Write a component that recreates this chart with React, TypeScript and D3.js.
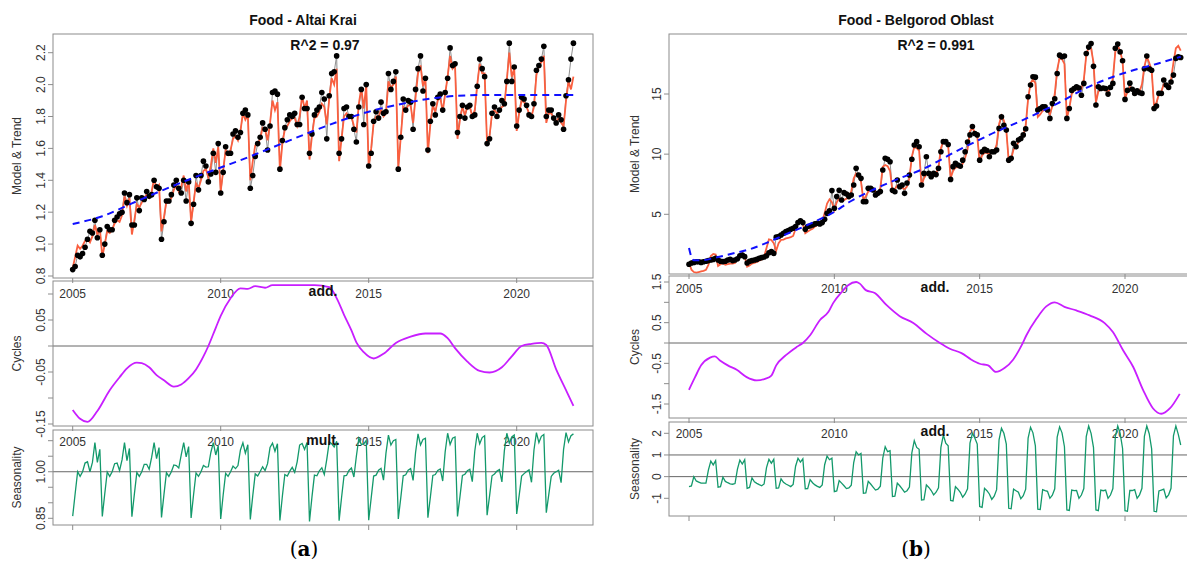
import * as d3 from "d3";

const yearTicks = [2005, 2010, 2015, 2020];

// ---------- (a) Food - Altai Krai, monthly Jan 2005 .. Dec 2021 ----------
const altaiObserved = [
  0.84, 0.86, 0.93, 0.92, 0.94, 0.98, 1.03, 1.08, 1.07, 1.15, 1.04, 1.09,
  0.93, 1.00, 1.11, 1.09, 1.09, 1.15, 1.17, 1.19, 1.20, 1.32, 1.26, 1.31,
  1.12, 1.12, 1.29, 1.21, 1.29, 1.28, 1.33, 1.30, 1.31, 1.40, 1.36, 1.35,
  1.03, 1.14, 1.27, 1.27, 1.31, 1.37, 1.40, 1.35, 1.32, 1.40, 1.27, 1.39,
  1.13, 1.25, 1.43, 1.34, 1.43, 1.52, 1.49, 1.39, 1.44, 1.57, 1.45, 1.63,
  1.32, 1.45, 1.61, 1.57, 1.57, 1.69, 1.71, 1.67, 1.70, 1.82, 1.84, 1.81,
  1.35, 1.43, 1.55, 1.63, 1.67, 1.76, 1.72, 1.59, 1.74, 1.95, 1.96, 1.94,
  1.47, 1.65, 1.73, 1.78, 1.81, 1.80, 1.82, 1.75, 1.75, 1.92, 1.85, 1.85,
  1.57, 1.69, 1.81, 1.84, 1.86, 1.95, 1.91, 1.66, 1.93, 2.07, 2.08, 2.18,
  1.57, 1.66, 1.85, 1.86, 1.80, 1.80, 1.72, 1.64, 1.86, 1.97, 1.75, 2.00,
  1.49, 1.57, 1.77, 1.83, 1.79, 1.89, 1.82, 1.83, 2.07, 1.97, 2.02, 2.08,
  1.47, 1.67, 1.91, 1.84, 1.90, 1.89, 1.72, 1.97, 2.10, 2.18, 1.96, 2.04,
  1.59, 1.77, 1.88, 1.81, 1.92, 1.94, 1.84, 1.95, 2.04, 2.23, 2.12, 2.13,
  1.70, 1.80, 1.87, 1.79, 1.86, 1.87, 1.80, 1.81, 1.99, 2.16, 2.10, 2.05,
  1.63, 1.66, 1.82, 1.86, 1.80, 1.84, 1.90, 1.88, 2.02, 2.26, 2.02, 2.11,
  1.74, 1.84, 1.92, 1.91, 1.87, 1.81, 1.80, 1.88, 2.09, 2.12, 2.16, 2.24,
  1.80, 1.84, 1.84, 1.79, 1.76, 1.81, 1.78, 1.72, 1.93, 2.03, 2.16, 2.26,
];

const altaiModel = [
  0.85, 0.92, 0.99, 0.97, 0.99, 1.02, 1.03, 1.01, 1.05, 1.12, 1.06, 1.10,
  0.92, 1.00, 1.08, 1.07, 1.09, 1.13, 1.15, 1.14, 1.18, 1.30, 1.24, 1.29,
  1.06, 1.15, 1.25, 1.23, 1.26, 1.29, 1.31, 1.29, 1.33, 1.41, 1.35, 1.37,
  1.08, 1.17, 1.27, 1.26, 1.29, 1.34, 1.37, 1.33, 1.36, 1.43, 1.33, 1.40,
  1.14, 1.26, 1.38, 1.35, 1.40, 1.46, 1.47, 1.42, 1.49, 1.60, 1.51, 1.61,
  1.33, 1.46, 1.59, 1.56, 1.59, 1.66, 1.68, 1.65, 1.71, 1.82, 1.78, 1.81,
  1.40, 1.52, 1.62, 1.63, 1.66, 1.73, 1.72, 1.65, 1.76, 1.90, 1.84, 1.89,
  1.46, 1.63, 1.72, 1.74, 1.77, 1.79, 1.79, 1.74, 1.80, 1.93, 1.85, 1.90,
  1.53, 1.68, 1.79, 1.80, 1.83, 1.88, 1.86, 1.75, 1.91, 2.04, 2.00, 2.10,
  1.52, 1.66, 1.80, 1.82, 1.80, 1.80, 1.74, 1.70, 1.88, 1.98, 1.85, 2.00,
  1.48, 1.60, 1.76, 1.80, 1.80, 1.84, 1.80, 1.82, 2.02, 1.98, 2.00, 2.05,
  1.48, 1.67, 1.86, 1.84, 1.87, 1.87, 1.76, 1.92, 2.07, 2.12, 1.99, 2.04,
  1.57, 1.75, 1.87, 1.83, 1.90, 1.92, 1.83, 1.94, 2.05, 2.18, 2.10, 2.12,
  1.66, 1.78, 1.86, 1.81, 1.86, 1.86, 1.80, 1.84, 2.00, 2.13, 2.07, 2.07,
  1.62, 1.68, 1.82, 1.84, 1.82, 1.84, 1.86, 1.87, 2.03, 2.20, 2.05, 2.10,
  1.71, 1.82, 1.90, 1.89, 1.86, 1.82, 1.80, 1.86, 2.06, 2.12, 2.14, 2.18,
  1.76, 1.82, 1.82, 1.79, 1.77, 1.79, 1.76, 1.74, 1.90, 2.02, 1.97, 2.05,
];

const altaiTrendMonths = [0, 12, 24, 36, 48, 60, 72, 84, 96, 108, 120, 132, 144, 156, 168, 203];
const altaiTrendValues = [1.126, 1.175, 1.255, 1.335, 1.41, 1.48, 1.55, 1.625, 1.70, 1.77, 1.83, 1.875, 1.91, 1.93, 1.935, 1.935];

const altaiCycleMonths = [0, 3, 6, 10, 15, 19, 22, 26, 28, 31, 34, 37, 41, 44, 47, 50, 53, 55, 58, 60, 64, 68, 71, 74, 78, 81, 90, 98, 104, 107, 110, 113, 115, 118, 122, 126, 131, 137, 143, 149, 152, 155, 160, 165, 169, 174, 178, 182, 186, 190, 192, 196, 200, 203];
const altaiCycleValues = [-0.123, -0.14, -0.146, -0.125, -0.085, -0.06, -0.043, -0.032, -0.033, -0.041, -0.056, -0.066, -0.078, -0.074, -0.062, -0.045, -0.02, 0.0, 0.035, 0.058, 0.092, 0.111, 0.11, 0.115, 0.112, 0.117, 0.117, 0.117, 0.113, 0.092, 0.06, 0.03, 0.007, -0.012, -0.024, -0.015, 0.006, 0.018, 0.024, 0.024, 0.015, -0.004, -0.03, -0.048, -0.051, -0.041, -0.02, 0.0, 0.004, 0.006, 0.002, -0.045, -0.085, -0.115];

const altaiSeason = [
  0.857, 0.930, 1.000, 0.985, 1.000, 1.028, 1.032, 1.000, 1.030, 1.094, 1.030, 1.072,
  0.856, 0.929, 0.999, 0.985, 1.000, 1.026, 1.028, 1.004, 1.038, 1.094, 1.036, 1.075,
  0.855, 0.928, 0.998, 0.985, 1.000, 1.024, 1.024, 1.008, 1.046, 1.094, 1.042, 1.078,
  0.853, 0.927, 0.997, 0.985, 1.000, 1.022, 1.020, 1.012, 1.054, 1.094, 1.048, 1.081,
  0.851, 0.926, 0.996, 0.985, 1.000, 1.020, 1.015, 1.016, 1.062, 1.094, 1.054, 1.084,
  0.848, 0.925, 0.995, 0.985, 1.000, 1.018, 1.010, 1.020, 1.070, 1.093, 1.060, 1.087,
  0.846, 0.923, 0.993, 0.986, 1.001, 1.016, 1.004, 1.026, 1.078, 1.092, 1.066, 1.090,
  0.843, 0.921, 0.991, 0.986, 1.002, 1.014, 0.998, 1.032, 1.086, 1.091, 1.072, 1.094,
  0.840, 0.919, 0.989, 0.987, 1.003, 1.013, 0.991, 1.040, 1.096, 1.090, 1.080, 1.098,
  0.842, 0.917, 0.987, 0.988, 1.004, 1.012, 0.983, 1.050, 1.108, 1.088, 1.090, 1.101,
  0.844, 0.915, 0.986, 0.989, 1.005, 1.011, 0.973, 1.060, 1.118, 1.086, 1.100, 1.104,
  0.848, 0.916, 0.987, 0.990, 1.005, 1.010, 0.972, 1.062, 1.122, 1.086, 1.104, 1.108,
  0.852, 0.918, 0.988, 0.991, 1.004, 1.009, 0.970, 1.064, 1.124, 1.088, 1.108, 1.112,
  0.856, 0.920, 0.988, 0.992, 1.003, 1.008, 0.968, 1.066, 1.124, 1.090, 1.110, 1.116,
  0.860, 0.922, 0.987, 0.993, 1.002, 1.007, 0.967, 1.068, 1.124, 1.092, 1.112, 1.118,
  0.864, 0.924, 0.986, 0.994, 1.001, 1.006, 0.966, 1.070, 1.126, 1.094, 1.114, 1.120,
  0.868, 0.926, 0.985, 0.995, 1.000, 1.005, 0.965, 1.072, 1.126, 1.096, 1.116, 1.122,
];

// ---------- (b) Food - Belgorod Oblast ----------
const belgObserved = [
  0.85, 0.95, 1.00, 1.05, 1.05, 1.00, 1.05, 1.10, 1.15, 1.20, 1.25, 1.35,
  1.20, 1.10, 1.07, 1.10, 1.20, 1.25, 1.15, 1.20, 1.30, 1.55, 1.62, 1.48,
  0.95, 1.10, 1.15, 1.20, 1.25, 1.35, 1.40, 1.45, 1.55, 1.80, 1.90, 1.75,
  3.10, 3.15, 3.28, 3.42, 3.56, 3.64, 3.75, 3.84, 3.98, 4.31, 4.47, 4.31,
  3.75, 3.98, 4.03, 4.11, 4.20, 4.25, 4.20, 4.31, 4.58, 5.08, 5.30, 6.97,
  5.50, 6.47, 7.00, 6.19, 6.80, 6.69, 6.47, 6.60, 7.44, 8.82, 8.27, 7.99,
  6.05, 6.05, 7.16, 7.16, 7.02, 6.60, 6.74, 6.90, 8.68, 9.65, 9.57, 9.37,
  7.00, 6.88, 7.85, 7.30, 7.44, 6.74, 7.60, 8.27, 9.57, 10.76, 11.04, 10.62,
  7.44, 8.40, 9.79, 8.40, 8.13, 8.40, 8.30, 8.82, 10.20, 11.04, 11.04, 10.80,
  7.90, 8.96, 9.24, 9.10, 9.00, 9.50, 10.20, 11.00, 11.60, 12.30, 11.72, 11.60,
  9.50, 10.20, 10.40, 10.30, 9.79, 10.20, 10.20, 10.34, 12.14, 13.10, 12.40, 12.00,
  9.50, 9.65, 10.90, 10.62, 11.17, 11.30, 11.60, 12.10, 14.77, 15.74, 16.43, 16.40,
  13.67, 13.80, 13.94, 13.94, 13.67, 12.97, 14.20, 14.60, 16.70, 18.23, 18.10, 18.15,
  12.97, 13.80, 15.30, 15.46, 15.60, 15.50, 14.90, 15.88, 18.37, 18.90, 19.20, 17.30,
  14.08, 15.60, 15.46, 15.50, 15.46, 14.99, 15.55, 15.88, 18.80, 19.15, 18.50, 17.76,
  14.55, 15.30, 15.90, 15.40, 15.05, 15.27, 15.10, 15.05, 17.10, 18.15, 17.10, 16.98,
  13.80, 14.00, 15.05, 15.05, 16.16, 15.74, 15.55, 16.00, 16.57, 17.96, 18.10, 18.04,
];

const belgModel = [
  0.99, 0.40, 0.20, 0.15, 0.20, 0.25, 0.30, 0.38, 0.80, 1.54, 1.70, 1.65,
  0.70, 0.85, 0.93, 0.80, 0.85, 0.90, 0.90, 0.95, 1.30, 1.62, 1.76, 1.50,
  0.65, 0.75, 0.90, 0.95, 1.05, 1.15, 1.25, 1.48, 2.20, 2.92, 2.87, 2.60,
  1.98, 2.60, 2.87, 2.90, 3.00, 3.05, 3.10, 3.20, 3.80, 4.30, 4.53, 4.20,
  3.42, 3.56, 3.70, 3.80, 3.98, 4.10, 4.20, 4.40, 5.10, 5.90, 6.25, 6.00,
  5.36, 6.00, 6.33, 6.20, 6.19, 6.30, 6.47, 6.90, 7.99, 8.40, 8.20, 7.71,
  6.19, 6.50, 6.88, 7.00, 7.08, 6.90, 6.74, 7.20, 8.96, 9.10, 9.00, 8.60,
  6.90, 7.10, 7.40, 7.30, 7.20, 7.10, 7.30, 8.00, 9.80, 10.60, 10.50, 10.30,
  7.40, 8.00, 8.30, 8.30, 8.20, 8.20, 8.40, 8.90, 10.50, 11.10, 11.00, 10.70,
  8.00, 8.60, 8.90, 8.90, 9.00, 9.20, 9.70, 10.40, 11.90, 12.20, 11.80, 11.50,
  9.30, 9.90, 10.10, 10.10, 10.00, 10.10, 10.20, 10.80, 12.50, 13.20, 12.80, 12.00,
  9.40, 9.60, 10.40, 10.60, 11.00, 11.20, 11.50, 12.40, 14.60, 15.90, 16.20, 15.90,
  13.10, 13.30, 13.60, 13.70, 13.60, 13.30, 14.00, 15.00, 17.00, 18.00, 17.90, 17.50,
  13.00, 13.80, 15.00, 15.30, 15.40, 15.30, 15.40, 16.20, 18.20, 18.90, 18.80, 17.60,
  14.30, 15.20, 15.40, 15.40, 15.30, 15.20, 15.50, 16.30, 18.50, 19.00, 18.60, 17.70,
  14.60, 15.20, 15.60, 15.40, 15.20, 15.20, 15.20, 15.80, 17.30, 18.10, 17.60, 17.00,
  14.00, 14.30, 15.00, 15.20, 15.80, 15.70, 15.60, 16.20, 17.60, 18.80, 19.00, 18.60,
];

const belgTrendMonths = [0, 1, 2, 5, 11, 18, 25, 32, 39, 46, 53, 60, 66, 73, 80, 87, 97, 110, 124, 138, 152, 165, 179, 193, 203];
const belgTrendValues = [2.2, 1.45, 1.18, 1.18, 1.4, 1.74, 2.09, 2.62, 3.25, 3.85, 4.5, 5.2, 6.0, 6.75, 7.4, 8.0, 8.8, 10.2, 11.6, 12.85, 14.2, 15.6, 16.7, 17.5, 18.1];

const belgCycleMonths = [0, 2.5, 5, 8.7, 10.7, 12.8, 16, 19.7, 23.8, 28, 31.4, 34, 36, 40, 44.4, 47, 50, 54, 57.5, 59.5, 63, 65.7, 69, 70.5, 73, 76.7, 81.6, 87, 92.6, 98, 103.6, 107.7, 112.5, 116.6, 120, 123.5, 126.7, 130.4, 133.8, 137.3, 139.3, 143.5, 147.5, 151, 155, 159.9, 165.4, 171.6, 175, 179.2, 183.4, 187.5, 191.6, 195, 198.5, 202.6];
const belgCycleValues = [-1.15, -0.84, -0.55, -0.36, -0.33, -0.43, -0.55, -0.66, -0.84, -0.92, -0.88, -0.8, -0.55, -0.3, -0.1, 0.0, 0.19, 0.56, 0.76, 0.98, 1.25, 1.42, 1.5, 1.46, 1.3, 1.23, 0.93, 0.66, 0.49, 0.23, 0.0, -0.14, -0.25, -0.41, -0.51, -0.55, -0.71, -0.61, -0.41, -0.06, 0.19, 0.6, 0.9, 1.0, 0.89, 0.8, 0.68, 0.49, 0.27, -0.18, -0.59, -1.16, -1.61, -1.74, -1.61, -1.25];

const belgSeason = [
  -0.46, -0.43, 0.0, -0.2, -0.25, -0.3, -0.3, -0.3, 0.3, 0.72, 0.54, 0.74,
  -0.49, -0.46, -0.03, -0.22, -0.28, -0.33, -0.35, -0.32, 0.35, 0.76, 0.58, 0.78,
  -0.54, -0.5, -0.06, -0.24, -0.31, -0.37, -0.42, -0.34, 0.42, 0.8, 0.62, 0.8,
  -0.54, -0.52, -0.1, -0.26, -0.34, -0.4, -0.46, -0.36, 0.48, 0.85, 0.67, 0.82,
  -0.56, -0.55, -0.14, -0.28, -0.38, -0.45, -0.5, -0.38, 0.55, 0.95, 0.78, 0.85,
  -0.69, -0.66, -0.18, -0.3, -0.42, -0.55, -0.52, -0.4, 0.65, 1.15, 1.0, 1.07,
  -0.77, -0.75, -0.22, -0.34, -0.48, -0.62, -0.58, -0.44, 0.85, 1.38, 1.15, 1.2,
  -0.92, -0.9, -0.3, -0.42, -0.56, -0.72, -0.65, -0.48, 1.1, 1.66, 1.35, 1.26,
  -1.08, -1.06, -0.38, -0.5, -0.64, -0.84, -0.72, -0.52, 1.35, 1.92, 1.54, 1.42,
  -1.1, -1.12, -0.46, -0.58, -0.72, -0.95, -0.8, -0.56, 1.55, 2.0, 1.78, 1.5,
  -1.38, -1.42, -0.54, -0.65, -0.8, -1.05, -0.9, -0.6, 1.7, 2.23, 2.0, 1.5,
  -1.46, -1.48, -0.58, -0.65, -0.72, -1.02, -0.88, -0.58, 1.78, 2.28, 2.02, 1.42,
  -1.5, -1.52, -0.6, -0.65, -0.68, -1.0, -0.86, -0.56, 1.82, 2.3, 2.02, 1.38,
  -1.54, -1.56, -0.62, -0.65, -0.64, -1.0, -0.85, -0.55, 1.85, 2.34, 2.0, 1.34,
  -1.54, -1.57, -0.62, -0.65, -0.62, -1.0, -0.85, -0.55, 1.85, 2.34, 2.0, 1.3,
  -1.57, -1.6, -0.64, -0.64, -0.6, -1.0, -0.84, -0.54, 1.86, 2.34, 1.98, 1.28,
  -1.6, -1.62, -0.66, -0.62, -0.58, -0.98, -0.84, -0.54, 1.88, 2.34, 1.95, 1.46,
];

// axis ticks
const altaiTrendTicks = [0.8, 1.0, 1.2, 1.4, 1.6, 1.8, 2.0, 2.2];
const altaiCycleTicks = [-0.15, -0.1, -0.05, 0, 0.05, 0.1];
const altaiCycleLabels = [-0.15, -0.05, 0.05];
const altaiSeasonTicks = [0.85, 0.9, 0.95, 1.0, 1.05, 1.1];
const altaiSeasonLabels = [0.85, 1.0];
const belgTrendTicks = [5, 10, 15];
const belgCycleTicks = [-1.5, -1, -0.5, 0, 0.5, 1, 1.5];
const belgCycleLabels = [-1.5, -0.5, 0.5, 1.5];
const belgSeasonTicks = [-1, 0, 1, 2];

const FONT = "'Liberation Sans', Arial, Helvetica, sans-serif";
const C = {
  frame: "#8c8c8c",
  axis: "#666",
  text: "#333",
  gray: "#8f8f8f",
  model: "#fa5f3f",
  trend: "#1010ff",
  cycle: "#c81eff",
  season: "#13996b",
};

type Scale = d3.ScaleLinear<number, number>;

function SubPlot(props: {
  x: Scale; y: Scale; left: number; right: number; top: number; bottom: number;
  ticks: number[]; labels: number[]; fmt: (v: number) => string;
  ylab: string; ylabX: number; xLabelY?: number; hlines?: number[];
  children?: any;
}) {
  const { x, y, left, right, top, bottom, ticks, labels, fmt, ylab, ylabX, xLabelY, hlines } = props;
  const mid = (top + bottom) / 2;
  return (
    <g fontFamily={FONT}>
      {(hlines || []).map((h) => (
        <line key={"h" + h} x1={left} x2={right} y1={y(h)} y2={y(h)} stroke={C.axis} strokeWidth={1} />
      ))}
      {props.children}
      <rect x={left} y={top} width={right - left} height={bottom - top} fill="none" stroke={C.frame} strokeWidth={1} />
      {ticks.map((t) => (
        <line key={"t" + t} x1={left - 5} x2={left} y1={y(t)} y2={y(t)} stroke={C.frame} />
      ))}
      {labels.map((t) => (
        <text key={"l" + t} transform={`translate(${left - 8.5},${y(t)}) rotate(-90)`} textAnchor="middle"
          fontSize={12} fill={C.text}>{fmt(t)}</text>
      ))}
      {yearTicks.map((yr) => (
        <line key={"x" + yr} x1={x((yr - 2005) * 12)} x2={x((yr - 2005) * 12)} y1={bottom} y2={bottom + 5} stroke={C.frame} />
      ))}
      {xLabelY !== undefined && yearTicks.map((yr) => (
        <text key={"xl" + yr} x={x((yr - 2005) * 12)} y={xLabelY} textAnchor="middle" fontSize={12} fill={C.text}>{yr}</text>
      ))}
      <text transform={`translate(${ylabX},${mid}) rotate(-90)`} textAnchor="middle" fontSize={12} fill={C.text}>{ylab}</text>
    </g>
  );
}

type PanelCfg = {
  title: string; titleX: number; r2: string; r2X: number; tag: string; tagX: number;
  left: number; right: number; x2005: number; x2020: number; ylabX: number;
  top: [number, number]; cyc: [number, number]; sea: [number, number];
  topMap: [number, number, number, number]; cycMap: [number, number, number, number]; seaMap: [number, number, number, number];
  observed: number[]; model: number[];
  trendMonths: number[]; trendValues: number[];
  cycleMonths: number[]; cycleValues: number[];
  season: number[];
  topTicks: number[]; topLabels: number[]; topFmt: (v: number) => string;
  cycTicks: number[]; cycLabels: number[]; cycFmt: (v: number) => string;
  seaTicks: number[]; seaLabels: number[]; seaFmt: (v: number) => string;
  seaLines: number[]; cycTag: string; seaTag: string; tagsX: number;
  topXLabelY: number; cycXLabelY: number; cycTagY: number; seaTagY: number;
};

function Panel({ c }: { c: PanelCfg }) {
  const x = d3.scaleLinear().domain([0, 180]).range([c.x2005, c.x2020]);
  const yT = d3.scaleLinear().domain([c.topMap[0], c.topMap[1]]).range([c.topMap[2], c.topMap[3]]);
  const yC = d3.scaleLinear().domain([c.cycMap[0], c.cycMap[1]]).range([c.cycMap[2], c.cycMap[3]]);
  const yS = d3.scaleLinear().domain([c.seaMap[0], c.seaMap[1]]).range([c.seaMap[2], c.seaMap[3]]);

  const series = (y: Scale) => d3.line<number>().x((_, i) => x(i)).y((d) => y(d));
  const smooth = (y: Scale) =>
    d3.line<[number, number]>().x((d) => x(d[0])).y((d) => y(d[1])).curve(d3.curveMonotoneX);

  const trend = d3.zip(c.trendMonths, c.trendValues) as [number, number][];
  const cycle = d3.zip(c.cycleMonths, c.cycleValues) as [number, number][];

  return (
    <g>
      <text x={c.titleX} y={25} textAnchor="middle" fontFamily={FONT} fontWeight="bold" fontSize={14} fill="#111">{c.title}</text>

      <SubPlot x={x} y={yT} left={c.left} right={c.right} top={c.top[0]} bottom={c.top[1]}
        ticks={c.topTicks} labels={c.topLabels} fmt={c.topFmt} ylab="Model & Trend" ylabX={c.ylabX} xLabelY={c.topXLabelY}>
        <path d={series(yT)(c.observed) || ""} fill="none" stroke={C.gray} strokeWidth={1} />
        <path d={series(yT)(c.model) || ""} fill="none" stroke={C.model} strokeWidth={1.8} />
        {c.observed.map((v, i) => (
          <circle key={i} cx={x(i)} cy={yT(v)} r={2.8} fill="#000" />
        ))}
        <path d={smooth(yT)(trend) || ""} fill="none" stroke={C.trend} strokeWidth={2} strokeDasharray="7,5" />
        <text x={c.r2X} y={49.5} textAnchor="middle" fontFamily={FONT} fontWeight="bold" fontSize={14} fill="#111">{c.r2}</text>
      </SubPlot>

      <SubPlot x={x} y={yC} left={c.left} right={c.right} top={c.cyc[0]} bottom={c.cyc[1]}
        ticks={c.cycTicks} labels={c.cycLabels} fmt={c.cycFmt} ylab="Cycles" ylabX={c.ylabX} xLabelY={c.cycXLabelY} hlines={[0]}>
        <path d={smooth(yC)(cycle) || ""} fill="none" stroke={C.cycle} strokeWidth={1.8} />
        <text x={c.tagsX} y={c.cycTagY} textAnchor="middle" fontFamily={FONT} fontWeight="bold" fontSize={14} fill="#111">{c.cycTag}</text>
      </SubPlot>

      <SubPlot x={x} y={yS} left={c.left} right={c.right} top={c.sea[0]} bottom={c.sea[1]}
        ticks={c.seaTicks} labels={c.seaLabels} fmt={c.seaFmt} ylab="Seasonality" ylabX={c.ylabX} hlines={c.seaLines}>
        <path d={series(yS)(c.season) || ""} fill="none" stroke={C.season} strokeWidth={1.3} />
        <text x={c.tagsX} y={c.seaTagY} textAnchor="middle" fontFamily={FONT} fontWeight="bold" fontSize={14} fill="#111">{c.seaTag}</text>
      </SubPlot>

      <text x={c.tagX} y={556} textAnchor="middle" fontFamily="'DejaVu Serif', 'Liberation Serif', serif" fontSize={20} fill="#000">
        (<tspan fontWeight="bold">{c.tag}</tspan>)
      </text>
    </g>
  );
}

const panelA: PanelCfg = {
  title: "Food - Altai Krai", titleX: 303, r2: "R^2 = 0.97", r2X: 325, tag: "a", tagX: 304,
  left: 53, right: 593, x2005: 72.7, x2020: 516.7, ylabX: 21,
  top: [34, 278], cyc: [281, 426], sea: [430, 525],
  topMap: [0.8, 2.2, 276, 52.7], cycMap: [-0.15, 0.05, 424, 320], seaMap: [0.85, 1.1, 518.3, 440.7],
  observed: altaiObserved, model: altaiModel,
  trendMonths: altaiTrendMonths, trendValues: altaiTrendValues,
  cycleMonths: altaiCycleMonths, cycleValues: altaiCycleValues,
  season: altaiSeason,
  topTicks: altaiTrendTicks, topLabels: altaiTrendTicks, topFmt: (v) => v.toFixed(1),
  cycTicks: altaiCycleTicks, cycLabels: altaiCycleLabels, cycFmt: (v) => v.toFixed(2),
  seaTicks: altaiSeasonTicks, seaLabels: altaiSeasonLabels, seaFmt: (v) => v.toFixed(2),
  seaLines: [1], cycTag: "add.", seaTag: "mult.", tagsX: 323,
  topXLabelY: 298, cycXLabelY: 446, cycTagY: 296, seaTagY: 445,
};

const panelB: PanelCfg = {
  title: "Food - Belgorod Oblast", titleX: 916, r2: "R^2 = 0.991", r2X: 936, tag: "b", tagX: 916,
  left: 669, right: 1190, x2005: 689, x2020: 1125, ylabX: 639,
  top: [34, 274], cyc: [276, 418], sea: [422, 516],
  topMap: [5, 15, 214.3, 94], cycMap: [-1.5, 1.5, 404, 282], seaMap: [-1, 2, 498.3, 433.3],
  observed: belgObserved, model: belgModel,
  trendMonths: belgTrendMonths, trendValues: belgTrendValues,
  cycleMonths: belgCycleMonths, cycleValues: belgCycleValues,
  season: belgSeason,
  topTicks: belgTrendTicks, topLabels: belgTrendTicks, topFmt: (v) => String(v),
  cycTicks: belgCycleTicks, cycLabels: belgCycleLabels, cycFmt: (v) => v.toFixed(1),
  seaTicks: belgSeasonTicks, seaLabels: belgSeasonTicks, seaFmt: (v) => String(v),
  seaLines: [0, 1], cycTag: "add.", seaTag: "add.", tagsX: 935,
  topXLabelY: 293, cycXLabelY: 438, cycTagY: 291.5, seaTagY: 436,
};

export default function App() {
  return (
    <div style={{ position: "absolute", left: 0, top: 0 }}>
      <svg width={1187} height={562} viewBox="0 0 1187 562" style={{ display: "block", background: "#fff" }}>
        <Panel c={panelA} />
        <Panel c={panelB} />
      </svg>
    </div>
  );
}
